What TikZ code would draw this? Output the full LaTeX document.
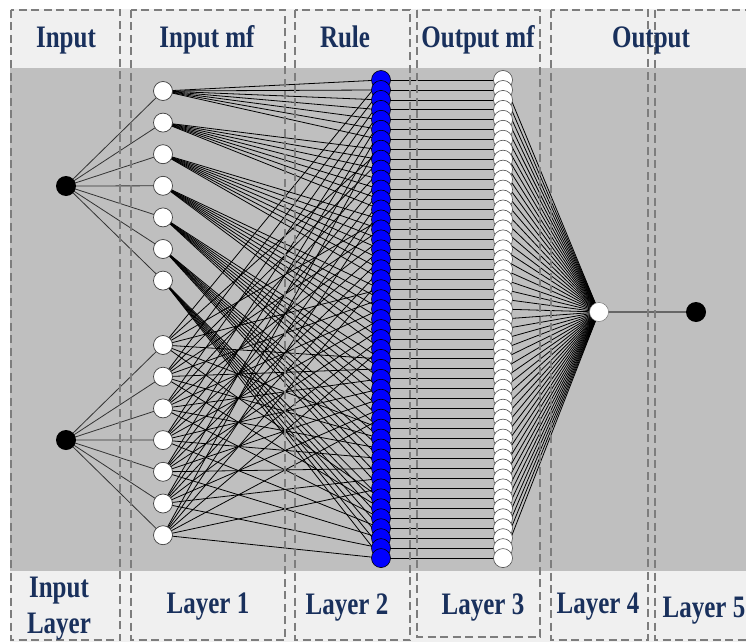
\documentclass[tikz,border=0pt]{standalone}
\usepackage{fontspec}
\setmainfont{Liberation Serif}
\usepackage{graphicx}
\definecolor{txt}{RGB}{25,48,92}
\definecolor{bgl}{RGB}{240,240,240}
\definecolor{bgd}{RGB}{191,191,191}
\definecolor{dashc}{RGB}{125,125,125}
\pgfdeclarelayer{bg}
\pgfdeclarelayer{edges}
\pgfsetlayers{bg,edges,main}
\begin{document}
\begin{tikzpicture}[x=1pt,y=-1pt,
  lbl/.style={text=txt,font=\bfseries\fontsize{25}{25}\selectfont,inner sep=0,anchor=base},
  colbox/.style={draw=dashc,line width=2pt,dash pattern=on 8pt off 4.5pt},
  wire/.style={black,line width=0.8pt},
  inp/.style={circle,fill=black,minimum size=20pt,inner sep=0},
  mfn/.style={circle,draw=black!75,fill=white,minimum size=19pt,inner sep=0,line width=0.7pt},
  rulen/.style={circle,draw=black,fill=blue,minimum size=19pt,inner sep=0,line width=0.6pt},
  omfn/.style={circle,draw=black!70,fill=white,minimum size=19pt,inner sep=0,line width=0.6pt}]
\useasboundingbox (0,0) rectangle (746,642);
\begin{pgfonlayer}{bg}
  \fill[bgl] (10,9) rectangle (746,642);
  \fill[bgd] (10,68) rectangle (746,571);
\end{pgfonlayer}
% input nodes
\node[inp] (x1) at (66,186) {};
\node[inp] (x2) at (66,440) {};
% input mf nodes
\foreach \i in {1,...,7} {
  \node[mfn] (a\i) at (163,{91+31.6*(\i-1)}) {};
  \node[mfn] (b\i) at (163,{345+31.7*(\i-1)}) {};
}
% rule and output mf nodes
\foreach \k in {1,...,49} {
  \node[rulen] (r\k) at (381,{80+9.96*(\k-1)}) {};
  \node[omfn] (o\k) at (503,{80+9.96*(\k-1)}) {};
}
\node[circle,draw=black!60,fill=white,minimum size=19pt,inner sep=0] (out4) at (599,312) {};
\node[inp] (out5) at (696,312) {};
% edges
\begin{pgfonlayer}{edges}
  \foreach \i in {1,...,7} {
    \draw[wire,black!80] (x1.center) -- (a\i.center);
    \draw[wire,black!80] (x2.center) -- (b\i.center);
    \foreach \j in {1,...,7} {
      \pgfmathtruncatemacro\k{(\i-1)*7+\j}
      \draw[wire] (a\i.center) -- (r\k.center);
      \draw[wire] (b\j.center) -- (r\k.center);
    }
  }
  \foreach \k in {1,...,49} {
    \draw[wire] (r\k.center) -- (o\k.center);
    \draw[wire] (o\k.center) -- (out4.center);
  }
  \draw[black!60,line width=1.2pt] (out4.center) -- (out5.center);
\end{pgfonlayer}
% dashed column boxes
\draw[colbox] (11,10) rectangle (120,640);
\draw[colbox] (131,10) rectangle (285,640);
\draw[colbox] (295,10) rectangle (410,640);
\draw[colbox] (417,10) rectangle (540,637);
\draw[colbox] (551,10) rectangle (648,640);
\draw[colbox] (655,10) rectangle (780,640);
% labels
\node[lbl] (h1) at (66,48) {\scalebox{1}[1.25]{Input}};
\node[lbl] (h2) at (207,48) {\scalebox{1}[1.25]{Input mf}};
\node[lbl] (h3) at (345,48) {\scalebox{1}[1.25]{Rule}};
\node[lbl] (h4) at (478,48) {\scalebox{1}[1.25]{Output mf}};
\node[lbl] (h5) at (651,48) {\scalebox{1}[1.25]{Output}};
\node[lbl] (f1a) at (59,597) {\scalebox{1}[1.25]{Input}};
\node[lbl] (f1b) at (59,633) {\scalebox{1}[1.25]{Layer}};
\node[lbl] (f2) at (208,613) {\scalebox{1}[1.25]{Layer 1}};
\node[lbl] (f3) at (347,614) {\scalebox{1}[1.25]{Layer 2}};
\node[lbl] (f4) at (483,614) {\scalebox{1}[1.25]{Layer 3}};
\node[lbl] (f5) at (598,613) {\scalebox{1}[1.25]{Layer 4}};
\node[lbl] (f6) at (704,617) {\scalebox{1}[1.25]{Layer 5}};
\end{tikzpicture}
\end{document}
